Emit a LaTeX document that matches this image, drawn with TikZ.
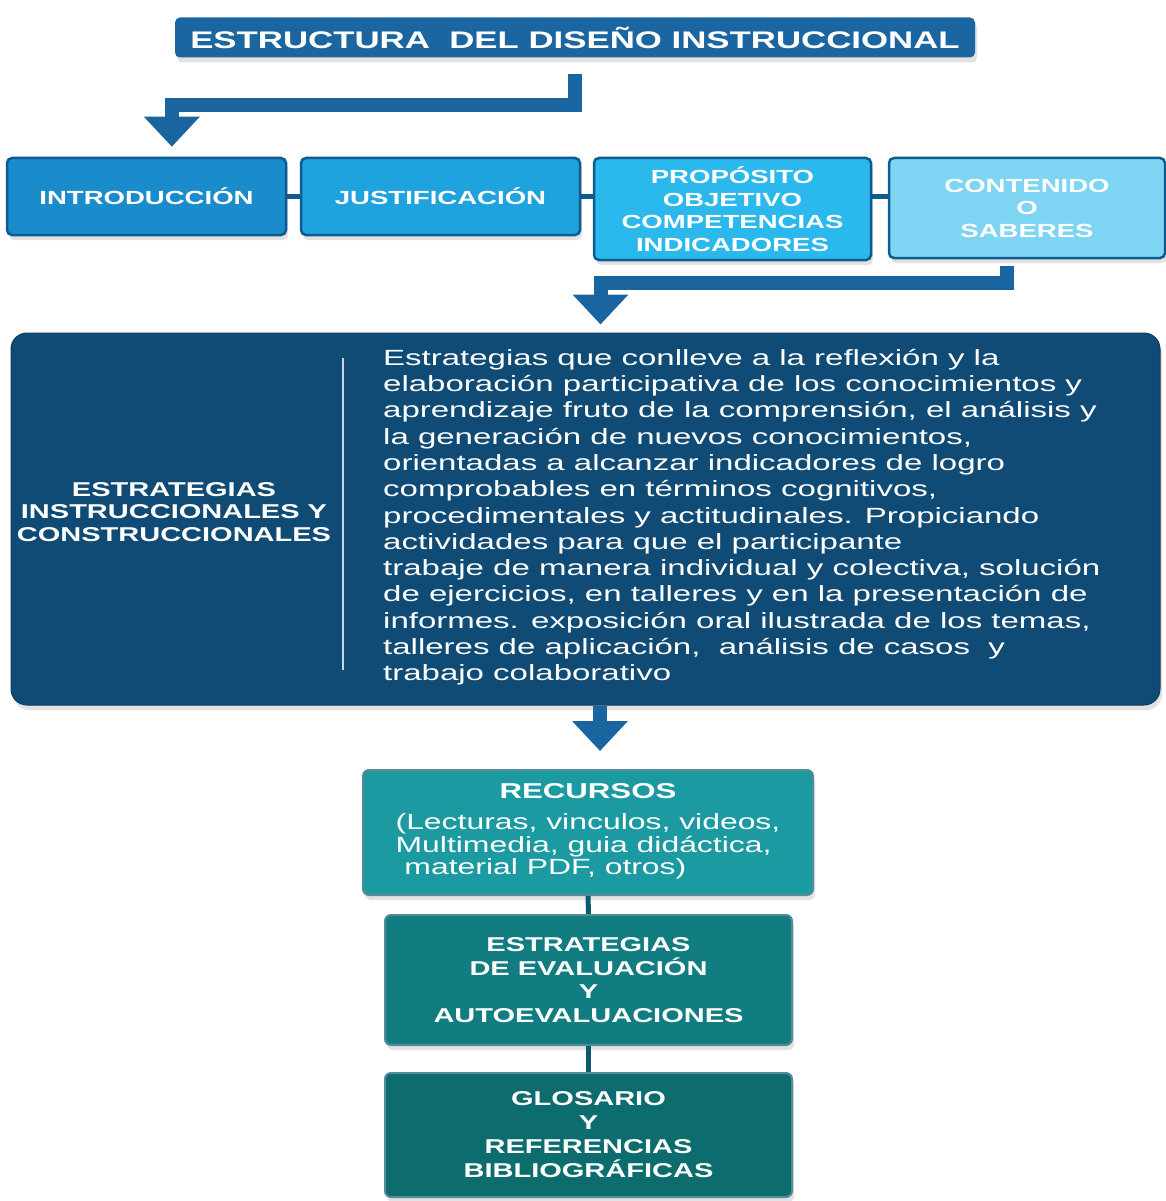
\documentclass[tikz,border=0pt]{standalone}
\usepackage{fontspec}
\setmainfont{Liberation Sans}[FakeStretch=1.45]
\newfontfamily\bodyfont{Liberation Sans}[FakeStretch=1.5]
\usepackage{tikz}
\usetikzlibrary{arrows.meta, positioning, calc, shadows}
\definecolor{titleblue}{HTML}{1B66A0}
\definecolor{arrowblue}{HTML}{1A64A0}
\definecolor{borderblue}{HTML}{0E5C8F}
\definecolor{introblue}{HTML}{1A8BCB}
\definecolor{justblue}{HTML}{1FA3DE}
\definecolor{propblue}{HTML}{2BB8EC}
\definecolor{contblue}{HTML}{7ED4F3}
\definecolor{navy}{HTML}{0F4B74}
\definecolor{recteal}{HTML}{1B9AA2}
\definecolor{evalteal}{HTML}{127D80}
\definecolor{glosteal}{HTML}{0D6D6E}
\definecolor{linkteal}{HTML}{0B5A6E}
\definecolor{divgray}{HTML}{C8D3DC}

\tikzset{
  boxshadow/.style={drop shadow={shadow xshift=2pt, shadow yshift=-5pt, opacity=0.25, fill=black!45}},
  topbox/.style={draw=borderblue, line width=2.5pt, rounded corners=5pt, text=white,
    font=\bfseries\fontsize{19}{22.5}\selectfont, align=center, inner sep=0pt, boxshadow},
  tealbox/.style={draw=linkteal!70, line width=2pt, rounded corners=6pt, text=white,
    align=center, inner sep=0pt, boxshadow},
  bigarrow/.style={draw=arrowblue, line width=14pt, -{Triangle[width=54pt,length=30pt]}},
  linkbar/.style={draw=borderblue, line width=5pt},
  linkstem/.style={draw=linkteal, line width=5pt},
}

\begin{document}
\begin{tikzpicture}[x=1pt, y=-1pt]
  \useasboundingbox (0,0) rectangle (1165,1201);

  % Titulo
  \node[fill=titleblue, rounded corners=5pt, text=white, inner sep=0pt, boxshadow,
    minimum width=800pt, minimum height=40pt, font=\bfseries\fontsize{24}{28}\selectfont]
    (title) at (575,37.5) {ESTRUCTURA\ \ DEL DISEÑO INSTRUCCIONAL};

  % Fila superior
  \node[topbox, fill=introblue, minimum width=279pt, minimum height=77pt] (intro) at (146.5,196.5) {INTRODUCCIÓN};
  \node[topbox, fill=justblue, minimum width=279pt, minimum height=77pt] (just) at (440.5,196.5) {JUSTIFICACIÓN};
  \node[topbox, fill=propblue, minimum width=277pt, minimum height=102pt] (prop) at (732.5,209)
    {PROPÓSITO\\OBJETIVO\\COMPETENCIAS\\INDICADORES};
  \node[topbox, fill=contblue, minimum width=276pt, minimum height=100pt] (cont) at (1027,208)
    {CONTENIDO\\O\\SABERES};

  \draw[linkbar] (intro.east) -- (just.west);
  \draw[linkbar] (just.east) -- (just.east -| prop.west);
  \draw[linkbar] (prop.east |- just.east) -- (just.east -| cont.west);

  % Flecha del titulo a la fila
  \draw[bigarrow, shorten <=16pt, shorten >=10pt] (title.south) -- ++(0,47.5)
    -| ($(intro.north)!0.18!(intro.north east)$);

  % Bloque de estrategias
  \node[fill=navy, draw=navy!80!black, line width=1pt, rounded corners=16pt, inner sep=0pt, boxshadow,
    minimum width=1149pt, minimum height=372pt] (estr) at (585.5,519) {};
  \node[text=white, align=center, inner sep=0pt, font=\bfseries\fontsize{20}{22.5}\selectfont]
    (estrtit) at (174,512) {ESTRATEGIAS\\INSTRUCCIONALES Y\\CONSTRUCCIONALES};
  \draw[divgray, line width=2pt] (343,358) -- (343,670);
  \node[text=white, align=left, inner sep=0pt, anchor=north west,
    font={\bodyfont\fontsize{22}{26.3}\selectfont}] (estrtxt) at (383,343)
    {\rule{0pt}{22pt}Estrategias que conlleve a la reflexión y la\\
     elaboración participativa de los conocimientos y\\
     aprendizaje fruto de la comprensión, el análisis y\\
     la generación de nuevos conocimientos,\\
     orientadas a alcanzar indicadores de logro\\
     comprobables en términos cognitivos,\\
     procedimentales y actitudinales. Propiciando\\
     actividades para que el participante\\
     trabaje de manera individual y colectiva, solución\\
     de ejercicios, en talleres y en la presentación de\\
     informes. exposición oral ilustrada de los temas,\\
     talleres de aplicación,\ \ análisis de casos\ \ y\\
     trabajo colaborativo};

  \draw[bigarrow, shorten <=7pt, shorten >=8pt] ($(cont.south)+(-20,0)$) -- ++(0,24)
    -| ($(estr.north)+(15,0)$);

  % Columna inferior
  \node[tealbox, fill=recteal, minimum width=450pt, minimum height=125pt] (recursos) at (588,832.5)
    {{\bfseries\fontsize{21.5}{24}\selectfont RECURSOS}\\[14pt]
     {\fontsize{22}{21.5}\selectfont\begin{tabular}{@{}l@{}}(Lecturas, vinculos, videos,\\
      Multimedia, guia didáctica,\\
      \ material PDF, otros)\end{tabular}}};
  \node[tealbox, fill=evalteal, minimum width=407pt, minimum height=130pt,
    font=\bfseries\fontsize{20}{23.5}\selectfont] (evalua) at (588.5,980)
    {ESTRATEGIAS\\DE EVALUACIÓN\\Y\\AUTOEVALUACIONES};
  \node[tealbox, fill=glosteal, minimum width=407pt, minimum height=124pt,
    font=\bfseries\fontsize{20}{24}\selectfont] (glosario) at (588.5,1135)
    {GLOSARIO\\Y\\REFERENCIAS\\BIBLIOGRÁFICAS};

  \draw[bigarrow, shorten >=18pt] ($(estr.south)+(14.5,0)$) -- ($(recursos.north)+(12,0)$);
  \draw[linkstem] (recursos.south) -- (evalua.north);
  \draw[linkstem] (evalua.south) -- (glosario.north);
\end{tikzpicture}
\end{document}
